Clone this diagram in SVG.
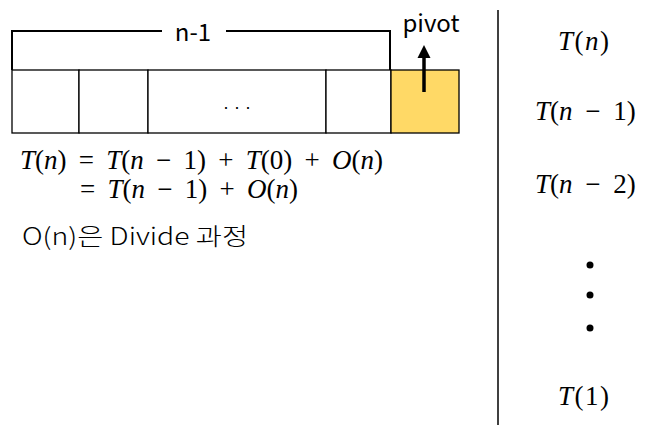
<svg xmlns="http://www.w3.org/2000/svg" width="665" height="431" viewBox="0 0 665 431">
<style>
.cell{fill:#fff;stroke:#000;stroke-width:1.3}
.piv{fill:#FFD966;stroke:#000;stroke-width:1.3}
.ln{fill:none;stroke:#000;stroke-width:2}
.m{font-family:"Liberation Serif",serif;font-size:27px;fill:#000;word-spacing:5.5px}
.i{font-style:italic}
.s{font-family:"Noto Sans CJK KR","Liberation Sans",sans-serif;fill:#000}
</style>
<g id="array">
<rect class="cell" x="12" y="70" width="67" height="63"/>
<rect class="cell" x="79" y="70" width="69" height="63"/>
<rect class="cell" x="148" y="70" width="178" height="63"/>
<rect class="cell" x="326" y="70" width="65" height="63"/>
<text x="237" y="113" text-anchor="middle" font-family="Liberation Sans,sans-serif" font-size="18">· · ·</text>
</g>
<g id="pivot">
<rect class="piv" x="391" y="70" width="68" height="63"/>
<text class="s" x="431" y="32" text-anchor="middle" font-size="24">pivot</text>
</g>
<g id="connectors">
<path class="ln" d="M12,70V31H162M226,31H390V70"/>
<line x1="424" y1="92" x2="424" y2="56" stroke="#000" stroke-width="3.5"/>
<path d="M417.5,58L424,45L430.5,58z" fill="#000"/>
<line x1="498" y1="10" x2="498" y2="425" stroke="#000" stroke-width="1.5"/>
</g>
<g id="label">
<text class="s" x="193" y="41" text-anchor="middle" font-size="24">n-1</text>
</g>
<g id="formula">
<text class="m" x="20" y="169"><tspan class="i">T</tspan>(<tspan class="i">n</tspan>) = <tspan class="i">T</tspan>(<tspan class="i">n</tspan> − 1) + <tspan class="i">T</tspan>(0) + <tspan class="i">O</tspan>(<tspan class="i">n</tspan>)</text>
<text class="m" x="80" y="198">= <tspan class="i">T</tspan>(<tspan class="i">n</tspan> − 1) + <tspan class="i">O</tspan>(<tspan class="i">n</tspan>)</text>
<text class="s" x="22" y="245" font-size="24" font-weight="300" textLength="226" lengthAdjust="spacingAndGlyphs">O(n)은 Divide 과정</text>
</g>
<g id="series">
<text class="m" x="558" y="50" letter-spacing="1.5"><tspan class="i">T</tspan>(<tspan class="i">n</tspan>)</text>
<text class="m" x="535" y="120" style="word-spacing:6px"><tspan class="i">T</tspan>(<tspan class="i">n</tspan> − 1)</text>
<text class="m" x="535" y="193" style="word-spacing:6px"><tspan class="i">T</tspan>(<tspan class="i">n</tspan> − 2)</text>
<circle cx="590" cy="265" r="3.5"/>
<circle cx="590" cy="295" r="3.5"/>
<circle cx="590" cy="328" r="3.5"/>
<text class="m" x="558" y="405" letter-spacing="1.5"><tspan class="i">T</tspan>(1)</text>
</g>
</svg>
